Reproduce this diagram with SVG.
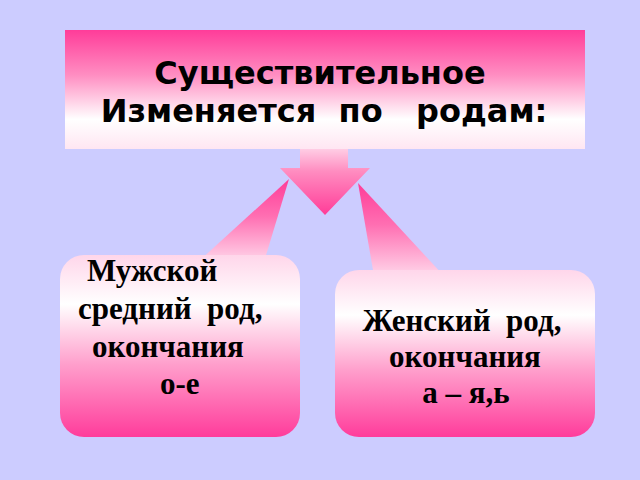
<svg xmlns="http://www.w3.org/2000/svg" width="640" height="480" viewBox="0 0 640 480">
<defs>
<linearGradient id="gTop" x1="0" y1="0" x2="0" y2="1">
<stop offset="0" stop-color="#FF3C99"/>
<stop offset="0.38" stop-color="#FF8EC2"/>
<stop offset="0.75" stop-color="#FFFFFF"/>
<stop offset="1" stop-color="#FFE6F2"/>
</linearGradient>
<linearGradient id="gBox" x1="0" y1="0" x2="0" y2="1">
<stop offset="0" stop-color="#FFD6EA"/>
<stop offset="0.27" stop-color="#FFFFFF"/>
<stop offset="0.6" stop-color="#FF9FCC"/>
<stop offset="1" stop-color="#FF3C9B"/>
</linearGradient>
<linearGradient id="gArrow" x1="0" y1="0" x2="0" y2="1">
<stop offset="0" stop-color="#FFD0E6"/>
<stop offset="0.35" stop-color="#FF8CC0"/>
<stop offset="1" stop-color="#FF3C98"/>
</linearGradient>
<linearGradient id="gWedge" x1="0" y1="0" x2="0" y2="1">
<stop offset="0" stop-color="#FF3C98"/>
<stop offset="0.45" stop-color="#FF6FB2"/>
<stop offset="1" stop-color="#FFD6EA"/>
</linearGradient>
<style>
.t1{font-family:"DejaVu Sans","Verdana",sans-serif;font-weight:bold;font-size:32px;fill:#000;white-space:pre}
.t2{font-family:"Liberation Serif","Times New Roman",serif;font-weight:bold;font-size:31px;fill:#000;white-space:pre}
</style>
</defs>
<rect x="0" y="0" width="640" height="480" fill="#CCCCFF"/>
<g id="connectors">
<polygon points="289,179 264,262 198,262" fill="url(#gWedge)"/>
<polygon points="358,183 444,276 374,276" fill="url(#gWedge)"/>
<path d="M300,148 H348 V168 H370 L325,215 L280,168 H300 Z" fill="url(#gArrow)"/>
</g>
<g id="node-top">
<rect x="65" y="30" width="520" height="119" fill="url(#gTop)"/>
<text class="t1" x="320" y="84" text-anchor="middle">Существительное</text>
<text class="t1" x="324" y="122" text-anchor="middle" xml:space="preserve">Изменяется  по   родам:</text>
</g>
<g id="node-left">
<rect x="60" y="255" width="240" height="182" rx="24" fill="url(#gBox)"/>
<text class="t2" x="87" y="281">Мужской</text>
<text class="t2" x="78" y="319" xml:space="preserve">средний  род,</text>
<text class="t2" x="92" y="357">окончания</text>
<text class="t2" x="160" y="394">о-е</text>
</g>
<g id="node-right">
<rect x="335" y="270" width="260" height="167" rx="24" fill="url(#gBox)"/>
<text class="t2" x="462" y="331" text-anchor="middle" xml:space="preserve">Женский  род,</text>
<text class="t2" x="465" y="367" text-anchor="middle">окончания</text>
<text class="t2" x="466" y="403" text-anchor="middle">а – я,ь</text>
</g>
</svg>
